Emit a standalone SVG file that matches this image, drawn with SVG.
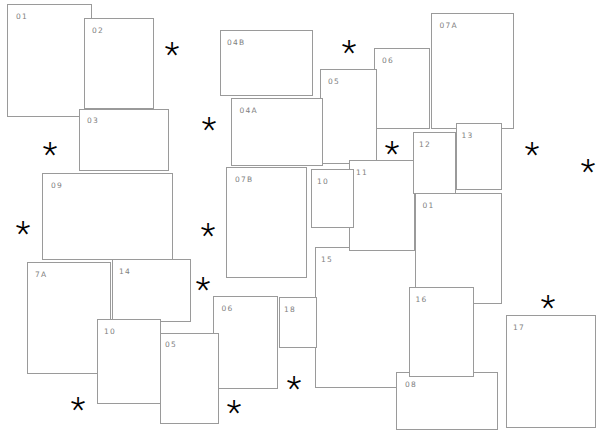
<svg xmlns="http://www.w3.org/2000/svg" width="600" height="431" viewBox="0 0 600 431">
<style>
.b{fill:#fff;stroke:#9a9a9a;stroke-width:1}
.l{font-family:"DejaVu Sans",sans-serif;font-size:7.5px;letter-spacing:1.2px;fill:#808080}
.s{font-family:Roboto,"Liberation Sans",sans-serif;font-weight:300;font-size:34px;fill:#000;text-anchor:middle}
</style>
<rect width="600" height="431" fill="#fff"/>
<g id="connectors"></g>
<g id="n01a"><rect class="b" x="7.5" y="4.5" width="84" height="112"/><text class="l" x="16" y="18.5">01</text></g>
<g id="n02"><rect class="b" x="84.5" y="18.5" width="69" height="90"/><text class="l" x="92" y="32.5">02</text></g>
<g id="n03"><rect class="b" x="79.5" y="109.5" width="89" height="61"/><text class="l" x="87" y="123">03</text></g>
<g id="n09"><rect class="b" x="42.5" y="173.5" width="130" height="86"/><text class="l" x="51" y="188">09</text></g>
<g id="n7A"><rect class="b" x="27.5" y="262.5" width="83" height="111"/><text class="l" x="35" y="277">7A</text></g>
<g id="n14"><rect class="b" x="112.5" y="259.5" width="78" height="62"/><text class="l" x="119" y="273.5">14</text></g>
<g id="n10a"><rect class="b" x="97.5" y="319.5" width="63" height="84"/><text class="l" x="104" y="333.5">10</text></g>
<g id="n06b"><rect class="b" x="213.5" y="296.5" width="64" height="92"/><text class="l" x="221.5" y="310.5">06</text></g>
<g id="n05b"><rect class="b" x="160.5" y="333.5" width="58" height="90"/><text class="l" x="165" y="347">05</text></g>
<g id="n04B"><rect class="b" x="220.5" y="30.5" width="92" height="65"/><text class="l" x="227" y="44.5">04B</text></g>
<g id="n06a"><rect class="b" x="374.5" y="48.5" width="55" height="80"/><text class="l" x="382" y="62.5">06</text></g>
<g id="n05a"><rect class="b" x="320.5" y="69.5" width="56" height="94"/><text class="l" x="328" y="83.5">05</text></g>
<g id="n04A"><rect class="b" x="231.5" y="98.5" width="91" height="67"/><text class="l" x="239.5" y="112.5">04A</text></g>
<g id="n07B"><rect class="b" x="226.5" y="167.5" width="80" height="110"/><text class="l" x="235" y="182">07B</text></g>
<g id="n07A"><rect class="b" x="431.5" y="13.5" width="82" height="115"/><text class="l" x="439.5" y="28">07A</text></g>
<g id="n15"><rect class="b" x="315.5" y="247.5" width="125" height="140"/><text class="l" x="321" y="261.5">15</text></g>
<g id="n11"><rect class="b" x="349.5" y="160.5" width="65" height="90"/><text class="l" x="356" y="174.5">11</text></g>
<g id="n10b"><rect class="b" x="311.5" y="169.5" width="42" height="58"/><text class="l" x="317" y="184">10</text></g>
<g id="n12"><rect class="b" x="413.5" y="132.5" width="42" height="61"/><text class="l" x="419" y="147">12</text></g>
<g id="n13"><rect class="b" x="456.5" y="123.5" width="45" height="66"/><text class="l" x="461.5" y="138">13</text></g>
<g id="n01b"><rect class="b" x="415.5" y="193.5" width="86" height="110"/><text class="l" x="422.5" y="208">01</text></g>
<g id="n18"><rect class="b" x="279.5" y="297.5" width="37" height="50"/><text class="l" x="284" y="311.5">18</text></g>
<g id="n08"><rect class="b" x="396.5" y="372.5" width="101" height="57"/><text class="l" x="405" y="386.5">08</text></g>
<g id="n16"><rect class="b" x="409.5" y="287.5" width="64" height="89"/><text class="l" x="415.5" y="301.5">16</text></g>
<g id="n17"><rect class="b" x="506.5" y="315.5" width="89" height="112"/><text class="l" x="513" y="329.5">17</text></g>
<g id="stars">
<text class="s" x="172" y="66">*</text>
<text class="s" x="50" y="166">*</text>
<text class="s" x="349" y="64">*</text>
<text class="s" x="209" y="141">*</text>
<text class="s" x="392" y="165">*</text>
<text class="s" x="532" y="166">*</text>
<text class="s" x="588" y="183">*</text>
<text class="s" x="23" y="245">*</text>
<text class="s" x="208" y="247">*</text>
<text class="s" x="203" y="301">*</text>
<text class="s" x="548" y="319">*</text>
<text class="s" x="294" y="400">*</text>
<text class="s" x="78" y="421">*</text>
<text class="s" x="234" y="424">*</text>
</g>
</svg>
